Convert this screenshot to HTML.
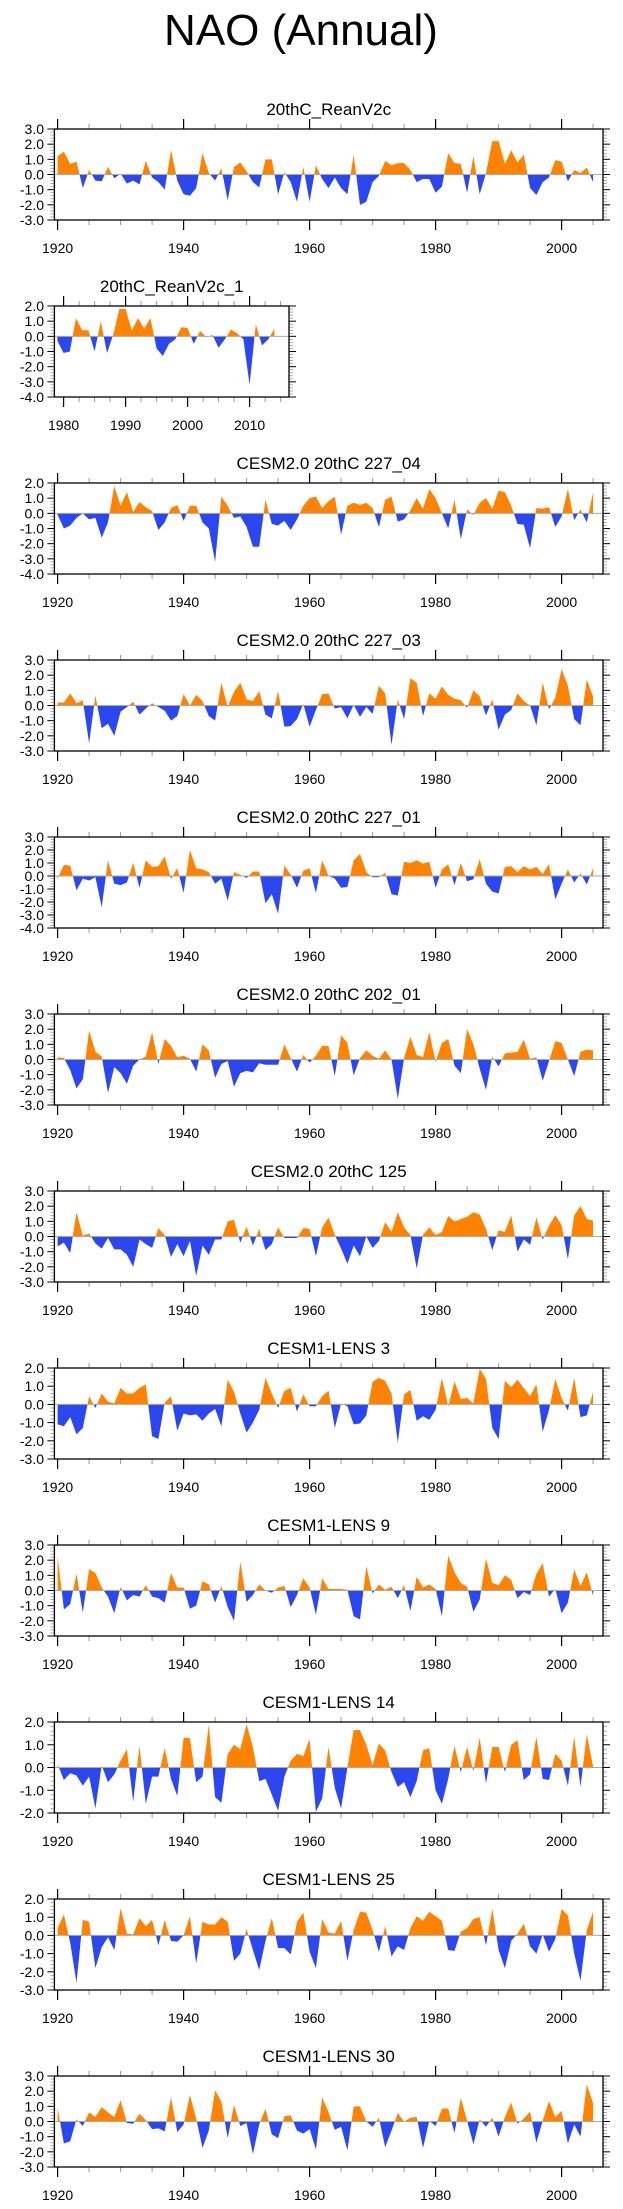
<!DOCTYPE html>
<html><head><meta charset="utf-8">
<style>
html,body{margin:0;padding:0;background:#fff;}
svg{display:block;font-family:"Liberation Sans",Arial,sans-serif;}
</style></head>
<body>
<svg id="chart" width="623" height="2209" viewBox="0 0 623 2209" xmlns="http://www.w3.org/2000/svg">
<text x="301" y="45" font-size="44" text-anchor="middle" fill="#000">NAO (Annual)</text>
</svg>
<script>
const titles = ["20thC_ReanV2c","20thC_ReanV2c_1","CESM2.0 20thC 227_04","CESM2.0 20thC 227_03","CESM2.0 20thC 227_01","CESM2.0 20thC 202_01","CESM2.0 20thC 125","CESM1-LENS 3","CESM1-LENS 9","CESM1-LENS 14","CESM1-LENS 25","CESM1-LENS 30"];
const startYears = [1920,1979,1920,1920,1920,1920,1920,1920,1920,1920,1920,1920];
const yMins = [-3,-4,-4,-3,-4,-3,-3,-3,-3,-2,-3,-3];
const yMaxs = [3,2,2,3,3,3,3,2,3,2,2,3];
const xTickYearsMain = [1920,1940,1960,1980,2000];
const xTickYearsShort = [1980,1990,2000,2010];
const s1 = [1.2,1.5,0.7,0.85,-0.9,0.3,-0.4,-0.45,0.5,-0.25,0.05,-0.6,-0.4,-0.65,0.9,-0.2,-0.5,-1.0,1.6,-0.4,-1.3,-1.4,-0.9,1.4,0.1,-0.4,0.4,-1.7,0.5,0.8,0.2,-0.5,-0.85,1.0,1.0,-1.3,0.15,-0.5,-1.8,0.5,-1.8,0.6,-0.3,-0.9,-0.2,-0.9,-1.3,1.3,-2.0,-1.8,-0.5,-0.1,0.9,0.6,0.75,0.75,0.3,-0.5,-0.3,-0.3,-1.2,-0.8,1.4,0.75,0.7,-1.2,1.2,-1.3,0.1,2.2,2.2,0.7,1.6,0.8,1.3,-0.9,-1.35,-0.5,-0.2,0.95,0.85,-0.45,0.3,0.1,0.45,-0.5];
const s2 = [-0.3,-1.1,-1.0,1.2,0.4,0.4,-1.0,1.0,-1.1,0.1,1.8,1.8,0.4,1.2,0.5,1.2,-0.8,-1.3,-0.5,-0.2,0.6,0.55,-0.5,0.35,-0.05,0.1,-0.75,-0.2,0.45,0.2,-0.2,-3.2,0.8,-0.6,-0.2,0.5];
const s3 = [-0.1,-1.0,-0.8,-0.3,0.0,-0.4,-0.3,-1.6,-0.6,1.8,0.5,1.4,0.1,0.75,0.4,0.15,-1.1,-0.6,0.35,0.55,-0.5,0.5,0.5,-0.6,-1.0,-3.2,1.1,0.5,-0.3,-0.2,-0.9,-2.2,-2.2,0.9,-0.7,-0.8,-0.5,-1.1,-0.4,0.5,1.0,1.1,0.35,0.8,1.1,-1.4,0.5,0.7,0.55,0.7,0.35,-0.9,0.9,1.1,-0.55,-0.4,0.2,1.0,0.3,1.6,1.0,0.0,-1.0,0.9,-1.7,0.25,-0.1,0.7,1.0,0.3,1.5,1.4,0.5,-0.7,-0.75,-2.3,0.35,0.3,0.4,-0.9,-0.2,1.6,-0.45,0.25,-0.6,1.4];
const s4 = [0.2,0.2,0.8,0.15,0.35,-2.5,0.65,-1.5,-1.2,-2.0,-0.4,-0.1,0.25,-0.6,-0.2,0.15,-0.1,-0.35,-1.0,-0.7,0.75,0.0,0.7,0.3,-0.7,-1.0,1.5,-0.1,0.9,1.5,0.4,0.3,0.95,-0.6,-0.85,0.95,-1.4,-1.35,-0.9,0.1,-1.4,-0.3,0.75,0.8,-0.2,-0.1,-0.85,0.05,-0.75,-0.1,-0.55,1.3,0.8,-2.6,0.4,-0.9,1.8,1.5,-0.7,0.8,0.45,1.25,0.7,0.45,0.35,-0.15,1.0,0.6,-0.65,0.4,-1.6,-0.6,-0.3,0.8,0.3,0.0,-1.3,1.5,-0.25,0.5,2.4,1.3,-0.9,-1.3,1.7,0.6];
const s5 = [-0.2,0.85,0.8,-1.1,-0.2,-0.35,-0.1,-2.4,1.2,-0.6,-0.7,-0.5,1.0,-0.9,1.2,0.7,0.75,1.5,-0.2,0.6,-1.3,2.0,0.6,0.5,0.3,-0.6,-0.2,-1.9,0.3,0.1,-0.15,0.35,0.35,-2.1,-1.4,-2.9,0.8,0.1,-0.9,0.4,0.6,-1.3,1.2,0,-0.2,-0.9,-0.85,1.2,1.7,0.3,-0.1,-0.1,0.25,-1.4,-1.5,1.1,1.0,1.2,0.95,1.1,-0.9,0.5,0.9,-0.7,1.0,-0.4,-0.25,1.3,-0.6,-1.2,-1.35,0.7,0.75,0.3,0.75,0.5,0.7,0.15,0.9,-1.8,-0.6,0.5,-0.5,0.2,-0.65,0.6];
const s6 = [0.15,0.1,-0.7,-1.9,-1.3,1.9,0.5,0.2,-2.2,-0.5,-0.9,-1.6,-0.4,0,0.2,1.8,-0.3,1.35,0.9,0.15,0.25,0.05,-0.8,1.0,0.6,-1.2,-0.3,-0.1,-1.8,-0.9,-0.75,-0.85,-0.25,-0.35,-0.35,-0.35,1.0,0.1,-0.8,0.3,-0.2,0.25,0.9,0.9,-1.1,1.6,1.1,-1.05,0.1,0.6,0.25,0.05,0.6,0.0,-2.6,0.1,1.5,0.3,0.15,1.8,-0.15,1.1,1.35,-0.4,-0.9,2.0,1.0,-0.6,-2.0,0.2,-0.45,0.4,0.45,0.5,1.3,0.05,0.15,-1.4,-0.1,1.2,1.1,0.0,-1.1,0.5,0.65,0.6];
const s7 = [-0.65,-0.4,-1.1,1.6,0.05,0.2,-0.45,-0.8,-0.1,-0.85,-0.85,-1.2,-2.0,-0.2,-0.5,-0.75,0.55,0.1,-1.35,-0.5,-1.3,-0.3,-2.6,-0.6,-1.2,-0.2,-0.2,1.0,1.1,-0.4,0.65,-0.6,0.5,-0.9,-0.5,0.6,-0.1,-0.1,-0.1,0.55,0.5,-1.3,0.6,1.25,0.1,-0.8,-1.8,-0.6,-1.3,0.0,-0.75,-0.3,0.95,0.3,1.6,0.6,0.1,-2.1,0.1,0.6,0.1,0.3,1.35,1.0,1.15,1.3,1.6,1.45,0.5,-0.9,0.4,0.3,1.4,-1.0,-0.2,-0.55,1.25,-0.2,0.7,1.4,0.75,-1.5,1.4,2.0,1.15,1.05];
const s8 = [-1.1,-1.2,-0.7,-1.65,-1.3,0.45,-0.2,0.6,0.15,0.05,0.9,0.6,0.6,0.9,1.1,-1.75,-1.9,0.1,0.45,-1.45,-0.5,-0.6,-0.55,-0.9,-0.5,-0.25,-1.2,1.35,0.7,-0.5,-1.55,-1.0,-0.3,1.45,0.6,-0.2,0.75,0.9,-0.4,0.55,-0.1,-0.1,0.45,0.75,-1.3,0.05,-0.1,-1.1,-1.05,-0.6,1.25,1.45,1.3,0.6,-2.1,0.55,0.8,-0.9,-0.65,-0.85,-0.3,1.45,-0.1,1.25,0.3,0.35,0.05,1.95,1.4,-1.3,-1.9,1.3,0.95,1.35,0.9,0.45,1.1,-1.5,-0.3,1.4,0.35,-0.35,1.45,-0.7,-0.6,0.7];
const s9 = [2.3,-1.25,-0.9,1.1,-1.45,1.4,1.15,0.2,-0.4,-1.5,0.25,-0.65,-0.3,-0.4,0.35,-0.4,-0.5,-0.8,1.15,0.2,0.2,-1.2,-1.0,0.6,0.4,-0.8,0.3,-1.1,-2.0,1.9,-0.75,-0.3,0.4,0.0,-0.15,0.2,0.3,-1.1,-0.3,0.8,0.2,-1.6,0.8,0.1,0.1,0.1,0.05,-1.7,-1.9,1.6,-0.2,0.4,0.05,0.25,-0.5,0.35,-1.35,0.9,0.2,0.4,0.1,-1.7,2.3,1.2,0.5,0.25,-1.4,-0.6,2.1,0.5,0.35,1.0,0.7,-0.5,-0.1,-0.3,1.1,1.8,-0.4,0.1,-1.5,-0.8,1.4,0.3,1.2,-0.35];
const s10 = [0.15,-0.55,-0.25,-0.35,-0.8,-0.4,-1.8,0.1,-0.65,-0.3,0.3,0.8,-1.5,0.95,-1.6,-0.4,-0.4,0.85,-0.5,-1.25,1.3,1.3,-0.65,-0.4,1.9,-1.3,-1.55,0.6,1.0,0.8,1.9,0.9,-0.6,-0.5,-1.2,-1.9,-0.4,0.3,0.6,0.5,1.25,-1.95,-1.35,0.9,-0.9,-1.8,0.0,1.65,1.65,1.0,0.1,1.05,0.75,-0.2,-0.85,-0.65,-1.3,-0.6,0.75,0.85,-1.0,-1.6,-0.5,0.95,-0.2,0.9,-0.15,1.3,-0.7,0.9,0.9,-0.2,1.0,1.2,-0.55,-0.3,1.35,-0.5,-0.55,0.6,0.3,-0.8,1.35,-0.85,1.45,0.05];
const s11 = [0.4,1.15,-0.4,-2.6,0.85,0.75,-1.8,-0.65,-0.1,-0.8,1.5,0.1,0.05,0.95,0.5,0.85,-0.55,0.85,-0.3,-0.35,0.0,1.05,-1.55,0.75,0.6,0.6,1.0,0.75,-1.4,-1.0,0.35,-0.8,-1.9,-0.3,0.95,-0.7,-0.7,-1.05,0.75,1.25,-0.9,-1.8,0.9,0.15,0.1,0.8,-1.4,0.3,1.3,1.25,0.3,-0.9,0.5,-1.15,-0.6,-0.8,0.4,1.05,0.8,1.3,1.05,0.8,-0.8,-0.85,0.2,0.4,0.9,1.0,-0.55,1.45,-0.8,-1.8,-0.3,0.1,0.65,-0.6,-1.0,0.05,-0.9,-0.2,1.45,1.1,-1.0,-2.5,0.3,1.3];
const s12 = [0.9,-1.45,-1.3,0.15,-0.3,0.6,0.3,0.95,0.6,0.3,1.4,-0.1,-0.15,0.5,0.1,-0.5,-0.45,-0.65,1.6,-0.7,-0.2,1.75,0.2,-1.75,-0.6,2.05,1.3,-1.1,1.1,-0.3,-0.1,-2.15,-0.2,0.85,-0.85,-1.1,0.35,0.4,-0.6,-0.8,-0.5,-1.85,1.6,0.6,-0.55,-0.35,-1.9,1.0,1.0,0.0,-0.35,0.25,-1.7,-0.6,0.55,0.0,0.25,0.3,-1.75,0.05,-0.3,0.85,0.85,-0.75,1.55,0.05,-1.5,0.15,-0.35,0.25,-1.0,0.3,1.25,-0.15,0.2,0.65,-1.4,0.05,1.35,0.3,0.7,-1.45,-0.2,-1.0,2.45,1.2];
const series = [s1,s2,s3,s4,s5,s6,s7,s8,s9,s10,s11,s12];

const NS = "http://www.w3.org/2000/svg";
const svg = document.getElementById('chart');
function mk(tag, attrs, parent){ const e=document.createElementNS(NS,tag); for(const k in attrs) e.setAttribute(k,attrs[k]); (parent||svg).appendChild(e); return e; }

const BOX_H = 91;
series.forEach((data, p) => {
  const short = p === 1;
  const top = p === 0 ? 129 : 129 + 177 * p;
  const bottom = top + BOX_H;
  const left = 54.4, right = short ? 289 : 603;
  const x0 = short ? 63.6 : 57.6, yr0 = short ? 1980 : 1920, ppy = short ? 6.2 : 6.3;
  const xs = yr => x0 + (yr - yr0) * ppy;
  const ymin = yMins[p], ymax = yMaxs[p];
  const ys = v => bottom - (v - ymin) / (ymax - ymin) * BOX_H;
  const zeroY = ys(0);

  const g = mk('g', {});
  
  

  const t = mk('text', {x: (left + right) / 2, y: top - 14, 'font-size': 17, 'text-anchor': 'middle'}, g);
  
  
  t.textContent = titles[p];

  // area path
  let d = 'M' + xs(startYears[p]) + ',' + zeroY;
  data.forEach((v, i) => { d += ' L' + xs(startYears[p] + i).toFixed(2) + ',' + ys(v).toFixed(2); });
  d += ' L' + xs(startYears[p] + data.length - 1) + ',' + zeroY + ' Z';
  const cidA = 'ca' + p, cidB = 'cb' + p;
  const defs = mk('defs', {}, g);
  const cpA = mk('clipPath', {id: cidA}, defs);
  mk('rect', {x: left, y: top, width: right - left, height: zeroY - top}, cpA);
  const cpB = mk('clipPath', {id: cidB}, defs);
  mk('rect', {x: left, y: zeroY, width: right - left, height: bottom - zeroY}, cpB);
  const pos = mk('path', {d: d, fill: '#ff8200', 'clip-path': 'url(#' + cidA + ')'}, g);
  
  
  const neg = mk('path', {d: d, fill: '#2b48f0', 'clip-path': 'url(#' + cidB + ')'}, g);
  
  
  const zl = mk('line', {x1: left, x2: right, y1: zeroY, y2: zeroY, stroke: '#aaa', 'stroke-width': 1}, g);
  
  

  // y ticks
  const nMinor = Math.round((ymax - ymin) / 0.2);
  for (let k = 0; k <= nMinor; k++) {
    const v = ymin + k * 0.2; const y = ys(v);
    const major = k % 5 === 0;
    const len = major ? 7 : 4; const col = major ? '#000' : '#999';
    mk('line', {x1: left - len, x2: left, y1: y, y2: y, stroke: col, 'stroke-width': major ? 1 : 0.8}, g);
    mk('line', {x1: right, x2: right + len, y1: y, y2: y, stroke: col, 'stroke-width': major ? 1 : 0.8}, g);
  }
  for (let v = ymin; v <= ymax; v++) {
    const lab = mk('text', {x: 44, y: ys(v) + 5, 'font-size': 14, 'text-anchor': 'end'}, g);
    
    
    lab.textContent = v.toFixed(1);
  }
  // x ticks
  const majors = short ? xTickYearsShort : xTickYearsMain;
  const step = short ? 2.5 : 5;
  const yA = short ? 1977.5 : 1920, yB = short ? 2015 : 2005;
  for (let yr = yA; yr <= yB + 0.01; yr += step) {
    const x = xs(yr); if (x < left || x > right) continue;
    const major = majors.indexOf(yr) >= 0;
    const len = major ? 10 : 5; const col = major ? '#000' : '#999';
    mk('line', {x1: x, x2: x, y1: bottom, y2: bottom + len, stroke: col, 'stroke-width': major ? 1.2 : 1}, g);
    mk('line', {x1: x, x2: x, y1: top - len, y2: top, stroke: col, 'stroke-width': major ? 1.2 : 1}, g);
  }
  majors.forEach(yr => {
    const lab = mk('text', {x: xs(yr), y: bottom + 33, 'font-size': 14, 'text-anchor': 'middle'}, g);
    
    
    lab.textContent = yr;
  });
  const box = mk('rect', {x: left, y: top, width: right - left, height: BOX_H, fill: 'none', stroke: '#000', 'stroke-width': 1.3}, g);
  
  
});
</script>
</body></html>
